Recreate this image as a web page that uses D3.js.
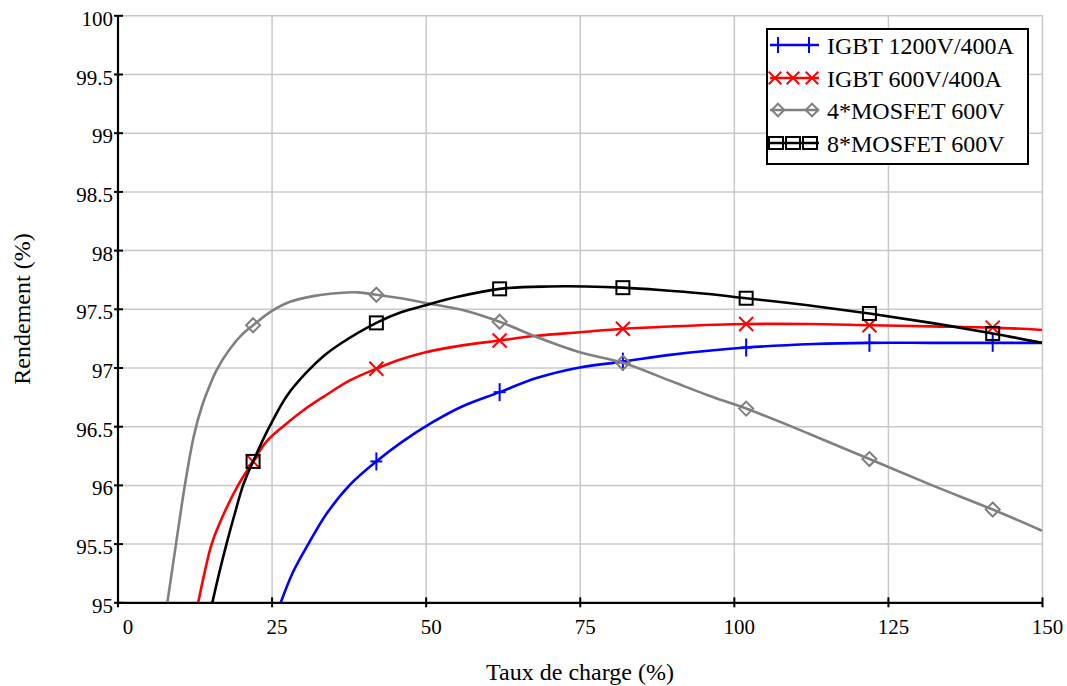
<!DOCTYPE html>
<html>
<head>
<meta charset="utf-8">
<script src="https://cdn.jsdelivr.net/npm/d3@7"></script>
<style>
  html, body { margin: 0; padding: 0; background: #fff; }
  svg { display: block; font-family: "Liberation Serif", "Times New Roman", serif; }
</style>
</head>
<body>
<svg id="chart" width="1067" height="686"></svg>
<script>
// ---- data ----
const xTicks = [0, 25, 50, 75, 100, 125, 150];
const yTicks = [95, 95.5, 96, 96.5, 97, 97.5, 98, 98.5, 99, 99.5, 100];
const xTickLabels = ["0", "25", "50", "75", "100", "125", "150"];
const yTickLabels = ["95", "95.5", "96", "96.5", "97", "97.5", "98", "98.5", "99", "99.5", "100"];

const seriesNames = ["IGBT 1200V/400A", "IGBT 600V/400A", "4*MOSFET 600V", "8*MOSFET 600V"];
const seriesColors = ["#0000ff", "#ff0000", "#808080", "#000000"];
const seriesSymbols = ["plus", "cross", "diamond", "square"];

const markerX = [22, 42, 62, 82, 102, 122, 142];

// IGBT 1200V/400A
const igbt1200X = [26.5, 28.5, 31, 34, 37.7, 42, 46, 51, 56, 62, 68, 75, 82, 90, 102, 113, 122, 132, 142, 150];
const igbt1200Y = [95, 95.26, 95.5, 95.76, 96.0, 96.2, 96.36, 96.53, 96.67, 96.79, 96.91, 97.0, 97.05, 97.11, 97.17, 97.2, 97.21, 97.21, 97.21, 97.21];
const igbt1200M = [null, 96.2, 96.79, 97.05, 97.17, 97.21, 97.21];

// IGBT 600V/400A
const igbt600X = [13.1, 14.2, 15.3, 17.3, 19.6, 22, 24.2, 26.9, 30, 33.4, 37.7, 42, 46, 50, 55, 62, 68, 75, 82, 90, 102, 112, 122, 132, 142, 150];
const igbt600Y = [95, 95.27, 95.5, 95.76, 96.0, 96.2, 96.37, 96.5, 96.63, 96.75, 96.89, 96.99, 97.07, 97.13, 97.18, 97.23, 97.27, 97.3, 97.33, 97.35, 97.37, 97.37, 97.36, 97.35, 97.34, 97.32];
const igbt600M = [96.2, 96.99, 97.23, 97.33, 97.37, 97.36, 97.34];

// 4*MOSFET 600V
const mos4X = [8.1, 9.5, 11.0, 12.4, 13.7, 15, 16.1, 18, 20, 22, 25, 28, 32, 36, 39, 42, 46, 50, 56, 62, 68, 75, 82, 90, 96, 102, 112, 122, 132, 142, 150];
const mos4Y = [95, 95.5, 96.02, 96.42, 96.67, 96.85, 96.98, 97.14, 97.27, 97.36, 97.48, 97.56, 97.61, 97.635, 97.64, 97.62, 97.59, 97.55, 97.49, 97.39, 97.26, 97.13, 97.04, 96.88, 96.76, 96.65, 96.44, 96.22, 96.0, 95.79, 95.61];
const mos4M = [97.36, 97.62, 97.39, 97.04, 96.65, 96.22, 95.79];

// 8*MOSFET 600V
const mos8X = [15.4, 16.5, 17.7, 19, 20.4, 22, 24.7, 27.5, 30.7, 33.5, 36.1, 42, 46, 50, 55, 62, 70, 76, 82, 88, 95, 102, 112, 122, 132, 142, 150];
const mos8Y = [95, 95.25, 95.5, 95.75, 96.0, 96.2, 96.5, 96.76, 96.96, 97.1, 97.2, 97.38, 97.47, 97.53, 97.6, 97.67, 97.69, 97.69, 97.68, 97.66, 97.63, 97.59, 97.53, 97.46, 97.38, 97.29, 97.21];
const mos8M = [96.2, 97.38, 97.67, 97.68, 97.59, 97.46, 97.29];

const seriesX = [igbt1200X, igbt600X, mos4X, mos8X];
const seriesY = [igbt1200Y, igbt600Y, mos4Y, mos8Y];
const seriesM = [igbt1200M, igbt600M, mos4M, mos8M];
const drawOrder = [0, 1, 2, 3];

// ---- layout ----
const svg = d3.select("#chart");
const plotL = 117.5, plotR = 1042, plotT = 15.3, plotB = 602.3;
const x = d3.scaleLinear().domain([0, 150]).range([plotL, plotR]);
const y = d3.scaleLinear().domain([95, 100]).range([plotB, plotT]);
const fontFam = '"Liberation Serif", "Times New Roman", serif';

// grid
svg.append("g")
  .attr("transform", `translate(0,${plotB})`)
  .call(d3.axisBottom(x).tickValues(xTicks.slice(1)).tickSize(-(plotB - plotT)).tickFormat(""))
  .call(g => g.select(".domain").remove())
  .call(g => g.selectAll("line").attr("stroke", "#c8c8c8").attr("stroke-width", 1.5));
svg.append("g")
  .attr("transform", `translate(${plotL},0)`)
  .call(d3.axisLeft(y).tickValues(yTicks.slice(1)).tickSize(-(plotR - plotL)).tickFormat(""))
  .call(g => g.select(".domain").remove())
  .call(g => g.selectAll("line").attr("stroke", "#c8c8c8").attr("stroke-width", 1.5));

// axes
const xAxis = svg.append("g")
  .attr("transform", `translate(0,${plotB})`)
  .call(d3.axisBottom(x).tickValues(xTicks).tickSizeInner(5).tickSizeOuter(0)
    .tickFormat((d, i) => xTickLabels[i]));
xAxis.select(".domain").attr("stroke", "#000").attr("stroke-width", 2.2);
xAxis.selectAll(".tick line").attr("y1", -5).attr("y2", 5).attr("stroke", "#000").attr("stroke-width", 2);
xAxis.selectAll(".tick text")
  .attr("y", 32).attr("dy", null)
  .attr("dx", (d) => d === 0 ? 10 : 5)
  .attr("fill", "#000")
  .style("font-size", "21px")
  .style("font-family", fontFam);

const yAxis = svg.append("g")
  .attr("transform", `translate(${plotL},0)`)
  .call(d3.axisLeft(y).tickValues(yTicks).tickSizeInner(4).tickSizeOuter(0)
    .tickFormat((d, i) => yTickLabels[i]));
yAxis.select(".domain").attr("stroke", "#000").attr("stroke-width", 2.2);
yAxis.selectAll(".tick line").attr("x1", 5.5).attr("x2", -3.5).attr("stroke", "#000").attr("stroke-width", 2);
yAxis.selectAll(".tick text")
  .attr("x", -4.5).attr("dy", 10)
  .attr("fill", "#000")
  .style("font-size", "21px")
  .style("font-family", fontFam);

// axis titles
svg.append("text")
  .attr("x", 580).attr("y", 680)
  .attr("text-anchor", "middle")
  .style("font-size", "24px")
  .text("Taux de charge (%)");
svg.append("text")
  .attr("transform", `translate(30,309) rotate(-90)`)
  .attr("text-anchor", "middle")
  .style("font-size", "24px")
  .text("Rendement (%)");

// symbols
function drawSymbol(g, kind, cx, cy, color, s) {
  s = s || 1;
  if (kind === "plus") {
    g.append("line").attr("x1", cx).attr("x2", cx).attr("y1", cy - 9 * s).attr("y2", cy + 9 * s)
      .attr("stroke", color).attr("stroke-width", 2);
    g.append("line").attr("x1", cx - 6 * s).attr("x2", cx + 6 * s).attr("y1", cy).attr("y2", cy)
      .attr("stroke", color).attr("stroke-width", 2);
  } else if (kind === "cross") {
    const h = 7 * s;
    g.append("line").attr("x1", cx - h).attr("x2", cx + h).attr("y1", cy - h).attr("y2", cy + h)
      .attr("stroke", color).attr("stroke-width", 2);
    g.append("line").attr("x1", cx - h).attr("x2", cx + h).attr("y1", cy + h).attr("y2", cy - h)
      .attr("stroke", color).attr("stroke-width", 2);
  } else if (kind === "diamond") {
    const h = 7 * s;
    g.append("path")
      .attr("d", `M${cx},${cy - h}L${cx + h},${cy}L${cx},${cy + h}L${cx - h},${cy}Z`)
      .attr("fill", "none").attr("stroke", color).attr("stroke-width", 2);
  } else if (kind === "square") {
    const h = 6.5 * s;
    g.append("rect").attr("x", cx - h).attr("y", cy - h).attr("width", 2 * h).attr("height", 2 * h)
      .attr("fill", "none").attr("stroke", color).attr("stroke-width", 2);
  }
}

// lines
const line = d3.line().curve(d3.curveCatmullRom.alpha(0.5));
drawOrder.forEach(i => {
  const pts = seriesX[i].map((xv, k) => [x(xv), y(seriesY[i][k])]);
  const g = svg.append("g");
  g.append("path").attr("d", line(pts))
    .attr("fill", "none").attr("stroke", seriesColors[i]).attr("stroke-width", 2.6)
    .attr("stroke-linejoin", "round");
  markerX.forEach((mx, k) => {
    const v = seriesM[i][k];
    if (v == null) return;
    drawSymbol(g, seriesSymbols[i], x(mx), y(v), seriesColors[i]);
  });
});

// legend
const lg = svg.append("g");
lg.append("rect").attr("x", 767).attr("y", 29).attr("width", 261).attr("height", 135)
  .attr("fill", "#fff").attr("stroke", "#000").attr("stroke-width", 2);
const rowY = [45, 78, 110, 143];
const legendSym = [[778, 809], [775, 793, 812], [778, 812], [776, 793, 810]];
seriesNames.forEach((name, i) => {
  const cy = rowY[i];
  lg.append("line").attr("x1", 770).attr("x2", 819).attr("y1", cy).attr("y2", cy)
    .attr("stroke", seriesColors[i]).attr("stroke-width", 2.6);
  legendSym[i].forEach(sx => {
    if (seriesSymbols[i] === "square") {
      lg.append("rect").attr("x", sx - 7).attr("y", cy - 6).attr("width", 14).attr("height", 12)
        .attr("fill", "none").attr("stroke", seriesColors[i]).attr("stroke-width", 2);
    } else {
      drawSymbol(lg, seriesSymbols[i], sx, cy, seriesColors[i], 0.9);
    }
  });
  lg.append("text").attr("x", 827).attr("y", cy + 8.5)
    .style("font-size", "24px").attr("fill", "#000").text(name);
});
</script>
</body>
</html>
